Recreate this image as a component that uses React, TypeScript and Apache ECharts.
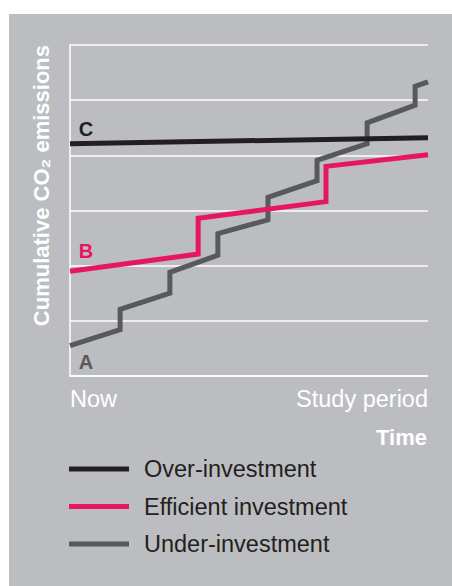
import React, { useEffect, useRef } from "react";
import * as echarts from "echarts";

// Horizontal position runs from "Now" (0) to the end of the study period (100).
const xTickLabels = ["Now", "Study period"];
const seriesNames = ["Over-investment", "Efficient investment", "Under-investment"];
const lineLabels = ["C", "B", "A"];

// Over-investment: one large early investment, slow growth afterwards
const overX = [0, 100];
const overY = [4.21, 4.32];

// Efficient investment: two well-timed steps
const efficientX = [0, 35.8, 35.8, 71.5, 71.5, 100];
const efficientY = [1.9, 2.21, 2.86, 3.16, 3.8, 4.01];

// Under-investment: frequent small upgrades
const underX = [0, 14, 14, 27.9, 27.9, 41.3, 41.3, 55.3, 55.3, 69, 69, 83, 83, 96.4, 96.4, 100];
const underY = [0.55, 0.84, 1.21, 1.5, 1.88, 2.19, 2.58, 2.83, 3.24, 3.54, 3.91, 4.21, 4.59, 4.91, 5.25, 5.33];

const COLORS = ["#231f20", "#e6175c", "#58595b"];
const FONT = "'Liberation Sans', Arial, Helvetica, sans-serif";

function buildData(xs: number[], ys: number[], label: any) {
  return xs.map((x, i) =>
    i === 0 ? { value: [x, ys[i]], label } : { value: [x, ys[i]] }
  );
}

function startLabel(text: string, color: string, position: string, distance: number) {
  return {
    show: true,
    formatter: text,
    position,
    distance,
    offset: [16, 0],
    color,
    fontSize: 20,
    fontWeight: "bold",
    fontFamily: FONT,
  };
}

export default function App() {
  const ref = useRef<HTMLDivElement>(null);

  useEffect(() => {
    if (!ref.current) return;
    const chart = echarts.init(ref.current, undefined, { renderer: "svg" });

    const lineSeries = (name: string, color: string, data: any[], z: number) => ({
      name,
      type: "line",
      data,
      symbol: "circle",
      symbolSize: 0,
      silent: true,
      z,
      lineStyle: { color, width: 5, cap: "butt", join: "miter" },
      itemStyle: { color },
      emphasis: { disabled: true },
    });

    chart.setOption({
      animation: false,
      backgroundColor: "transparent",
      grid: { left: 70, top: 45, right: 24, bottom: 210, containLabel: false },
      xAxis: {
        type: "value",
        min: 0,
        max: 100,
        interval: 100,
        axisLine: { show: true, lineStyle: { color: "#ffffff", width: 1.5 } },
        axisTick: { show: false },
        splitLine: { show: false },
        axisLabel: {
          color: "#ffffff",
          fontSize: 23.5,
          fontFamily: FONT,
          margin: 11,
          alignMinLabel: "left",
          alignMaxLabel: "right",
          formatter: (v: number) => (v === 0 ? xTickLabels[0] : v === 100 ? xTickLabels[1] : ""),
        },
      },
      yAxis: {
        type: "value",
        min: 0,
        max: 6,
        interval: 1,
        axisLine: { show: true, lineStyle: { color: "#ffffff", width: 1.5 } },
        axisTick: { show: false },
        axisLabel: { show: false },
        splitLine: { show: true, lineStyle: { color: "#ffffff", width: 1.5 } },
      },
      legend: {
        orient: "vertical",
        left: 69,
        top: 457,
        padding: 0,
        data: seriesNames,
        icon: "rect",
        itemWidth: 60,
        itemHeight: 5,
        itemGap: 13.5,
        selectedMode: false,
        textStyle: {
          color: "#231f20",
          fontSize: 23.5,
          fontFamily: FONT,
          lineHeight: 24,
          padding: [0, 0, 0, 10],
        },
      },
      graphic: [
        {
          type: "text",
          x: 41,
          y: 45,
          rotation: Math.PI / 2,
          silent: true,
          style: {
            text: "Cumulative CO\u2082 emissions",
            fill: "#ffffff",
            font: `bold 22px ${FONT}`,
            align: "right",
            verticalAlign: "middle",
          },
        },
        {
          type: "text",
          x: 427,
          y: 437.5,
          silent: true,
          style: {
            text: "Time",
            fill: "#ffffff",
            font: `bold 22px ${FONT}`,
            align: "right",
            verticalAlign: "middle",
          },
        },
      ],
      series: [
        lineSeries(
          seriesNames[2],
          COLORS[2],
          buildData(underX, underY, startLabel(lineLabels[2], COLORS[2], "bottom", 6)),
          2
        ),
        lineSeries(
          seriesNames[1],
          COLORS[1],
          buildData(efficientX, efficientY, startLabel(lineLabels[1], COLORS[1], "top", 10)),
          3
        ),
        lineSeries(
          seriesNames[0],
          COLORS[0],
          buildData(overX, overY, startLabel(lineLabels[0], COLORS[0], "top", 5)),
          4
        ),
      ],
    });

    return () => chart.dispose();
  }, []);

  return (
    <div
      style={{
        position: "fixed",
        left: 0,
        top: 0,
        width: 452,
        height: 586,
        background: "#ffffff",
        overflow: "hidden",
      }}
    >
      <div
        style={{
          position: "absolute",
          left: 9,
          top: 14,
          width: 443,
          height: 572,
          background: "#bcbdc0",
        }}
      />
      <div ref={ref} style={{ position: "absolute", left: 0, top: 0, width: 452, height: 586 }} />
    </div>
  );
}
